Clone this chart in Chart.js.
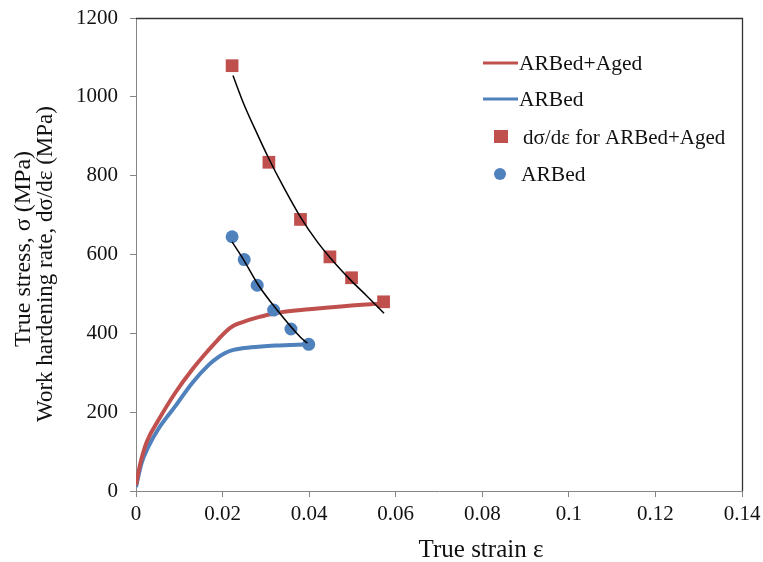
<!DOCTYPE html>
<html>
<head>
<meta charset="utf-8">
<script src="https://cdn.jsdelivr.net/npm/chart.js@4.4.1/dist/chart.umd.min.js"></script>
<style>
  html, body { margin: 0; padding: 0; background: #ffffff; }
  #wrap { width: 763px; height: 562px; }
</style>
</head>
<body>
<div id="wrap"><canvas id="c" width="763" height="562"></canvas></div>
<script>
// ---- data ----
const agedStrain  = [0, 0.001, 0.0025, 0.0052, 0.009, 0.0129, 0.0168, 0.0187, 0.0206, 0.0225, 0.0245, 0.0283, 0.0322, 0.040, 0.048, 0.0573];
const agedStress  = [15, 70, 125, 180, 248, 307, 358, 381, 403, 419, 428, 441, 451, 461, 469, 476];

const arbStrain   = [0, 0.0013, 0.0029, 0.0052, 0.009, 0.0129, 0.0168, 0.0187, 0.0206, 0.0225, 0.0245, 0.0283, 0.0322, 0.0399];
const arbStress   = [10, 71, 113, 158, 214, 273, 320, 337, 350, 358, 362, 366, 369, 372];

const agedRateStrain = [0.0222, 0.0307, 0.0380, 0.0448, 0.0498, 0.0572];
const agedRate       = [1079, 834, 689, 594, 541, 480];

const arbRateStrain  = [0.0222, 0.0250, 0.0280, 0.0318, 0.0358, 0.0399];
const arbRate        = [645, 587, 522, 459, 411, 372];

const agedFitStrain  = [0.0224, 0.0249, 0.0280, 0.0307, 0.0341, 0.0380, 0.0419, 0.0450, 0.0496, 0.0535, 0.0573];
const agedFit        = [1054, 982, 906, 843, 771, 695, 632, 590, 535, 493, 451];

const arbFitStrain   = [0.0222, 0.0249, 0.0283, 0.0326, 0.0380, 0.0396];
const arbFit         = [632, 586, 522, 459, 390, 375];

const xTickLabels = ['0', '0.02', '0.04', '0.06', '0.08', '0.1', '0.12', '0.14'];
const yTickLabels = ['0', '200', '400', '600', '800', '1000', '1200'];

const legendLabels = ['ARBed+Aged', 'ARBed', 'dσ/dε for ARBed+Aged', 'ARBed'];
const xTitle = 'True strain ε';
const yTitleLines = ['True stress, σ (MPa)', 'Work hardening rate, dσ/dε (MPa)'];

// ---- helpers ----
const pts = (xs, ys) => xs.map((x, i) => ({ x: x, y: ys[i] }));
const RED = '#C0504D';
const BLUE = '#4F81BD';
const SERIF = '"Liberation Serif", "Times New Roman", serif';

const decor = {
  id: 'decor',
  beforeDatasetsDraw(chart) {
    const { ctx, chartArea: a } = chart;
    ctx.save();
    ctx.strokeStyle = '#333333';
    ctx.lineWidth = 1.3;
    ctx.beginPath();
    ctx.moveTo(a.left, a.top + 0.5);
    ctx.lineTo(a.right + 0.5, a.top + 0.5);
    ctx.lineTo(a.right + 0.5, a.bottom);
    ctx.stroke();
    ctx.restore();
  },
  afterDraw(chart) {
    const { ctx } = chart;
    ctx.save();
    ctx.fillStyle = '#111111';
    ctx.textAlign = 'center';
    ctx.textBaseline = 'middle';
    // x title
    ctx.font = '25px ' + SERIF;
    ctx.fillText(xTitle, 481, 550);
    // y title (two lines, rotated)
    const ypos = [[24, 249, 24], [46, 264, 23]];
    ypos.forEach((p, i) => {
      ctx.save();
      ctx.font = p[2] + 'px ' + SERIF;
      ctx.translate(p[0], p[1]);
      ctx.rotate(-Math.PI / 2);
      ctx.fillText(yTitleLines[i], 0, 0);
      ctx.restore();
    });
    ctx.restore();

    // legend
    const ds = chart.data.datasets;
    ctx.save();
    ctx.textAlign = 'left';
    ctx.textBaseline = 'middle';
    const rows = [
      { ds: ds[0], y: 63, kind: 'line', tx: 519, fs: 21.5 },
      { ds: ds[1], y: 99, kind: 'line', tx: 519, fs: 21.5 },
      { ds: ds[2], y: 137, kind: 'rect', tx: 523, fs: 21 },
      { ds: ds[3], y: 174, kind: 'circle', tx: 521, fs: 21.5 }
    ];
    rows.forEach((r, i) => {
      if (r.kind === 'line') {
        ctx.strokeStyle = r.ds.borderColor;
        ctx.lineWidth = 3;
        ctx.beginPath();
        ctx.moveTo(483, r.y);
        ctx.lineTo(518, r.y);
        ctx.stroke();
      } else if (r.kind === 'rect') {
        ctx.fillStyle = r.ds.backgroundColor;
        ctx.fillRect(494, r.y - 7, 14, 13);
      } else {
        ctx.fillStyle = r.ds.backgroundColor;
        ctx.beginPath();
        ctx.arc(500, r.y, 6, 0, Math.PI * 2);
        ctx.fill();
      }
      ctx.fillStyle = '#111111';
      ctx.font = r.fs + 'px ' + SERIF;
      ctx.fillText(legendLabels[i], r.tx, r.y + 1);
    });
    ctx.restore();
  }
};

new Chart(document.getElementById('c'), {
  type: 'scatter',
  data: {
    datasets: [
      { label: legendLabels[0], data: pts(agedStrain, agedStress), showLine: true, borderColor: RED, backgroundColor: RED,
        borderWidth: 4, pointRadius: 0, cubicInterpolationMode: 'monotone', order: 3 },
      { label: legendLabels[1], data: pts(arbStrain, arbStress), showLine: true, borderColor: BLUE, backgroundColor: BLUE,
        borderWidth: 4, pointRadius: 0, cubicInterpolationMode: 'monotone', order: 4 },
      { label: legendLabels[2], data: pts(agedRateStrain, agedRate), showLine: false, pointStyle: 'rect',
        pointRadius: 9, backgroundColor: RED, borderColor: RED, borderWidth: 0, order: 2 },
      { label: legendLabels[3], data: pts(arbRateStrain, arbRate), showLine: false, pointStyle: 'circle',
        pointRadius: 6.5, backgroundColor: BLUE, borderColor: BLUE, borderWidth: 0, order: 2 },
      { label: 'fit aged', data: pts(agedFitStrain, agedFit), showLine: true, borderColor: '#000000',
        borderWidth: 1.5, pointRadius: 0, cubicInterpolationMode: 'monotone', order: 0 },
      { label: 'fit arb', data: pts(arbFitStrain, arbFit), showLine: true, borderColor: '#000000',
        borderWidth: 1.5, pointRadius: 0, cubicInterpolationMode: 'monotone', order: 0 }
    ]
  },
  options: {
    responsive: false,
    animation: false,
    layout: { padding: { top: 18, right: 21, left: 0, bottom: 0 } },
    plugins: { legend: { display: false }, tooltip: { enabled: false } },
    scales: {
      x: {
        type: 'linear', min: 0, max: 0.14,
        afterFit(s) { s.height = 71; s.paddingLeft = 0; s.paddingRight = 0; },
        afterBuildTicks(s) { s.ticks = xTickLabels.map(t => ({ value: parseFloat(t) })); },
        ticks: {
          autoSkip: false, maxRotation: 0, padding: 5, color: '#111111',
          font: { family: SERIF, size: 21 },
          callback: (v, i) => xTickLabels[i]
        },
        grid: { drawOnChartArea: false, drawTicks: true, tickLength: 6, color: '#868686' },
        border: { color: '#868686', width: 1 }
      },
      y: {
        type: 'linear', min: 0, max: 1200,
        afterFit(s) { s.width = 136; s.paddingTop = 0; s.paddingBottom = 0; },
        afterBuildTicks(s) { s.ticks = yTickLabels.map(t => ({ value: parseFloat(t) })); },
        ticks: {
          autoSkip: false, padding: 12, color: '#111111',
          font: { family: SERIF, size: 21 },
          callback: (v, i) => yTickLabels[i]
        },
        grid: { drawOnChartArea: false, drawTicks: true, tickLength: 6, color: '#868686' },
        border: { color: '#868686', width: 1 }
      }
    }
  },
  plugins: [decor]
});
</script>
</body>
</html>
